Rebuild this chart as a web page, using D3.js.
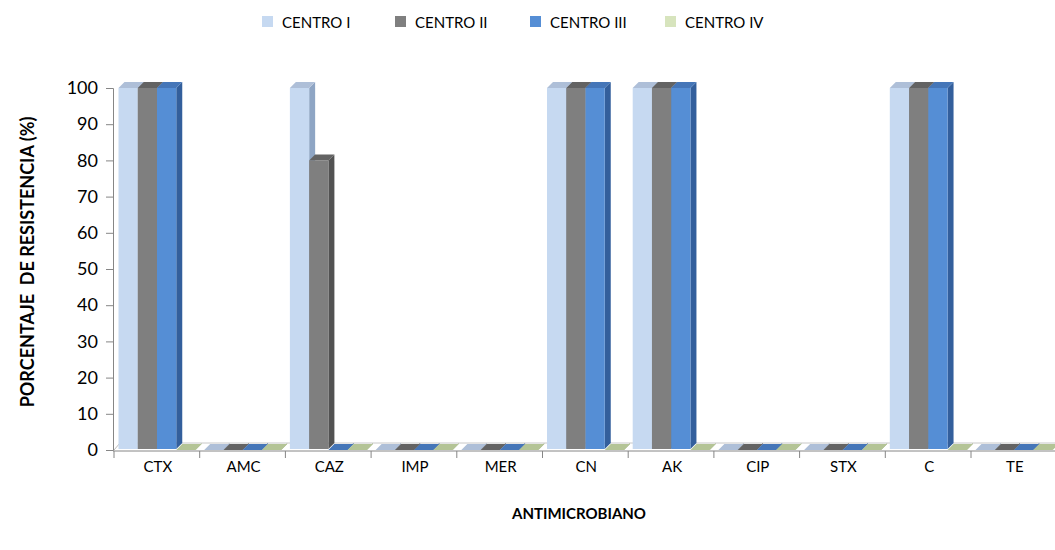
<!DOCTYPE html>
<meta charset="utf-8">
<script src="https://d3js.org/d3.v7.min.js"></script>
<style>
  body { margin: 0; background: #fff; }
  text { font-family: Lato, "Open Sans", sans-serif; fill: #000; }
</style>
<div id="chart"></div>
<script>
// data
const categories = ["CTX", "AMC", "CAZ", "IMP", "MER", "CN", "AK", "CIP", "STX", "C", "TE"];
const seriesNames = ["CENTRO I", "CENTRO II", "CENTRO III", "CENTRO IV"];
const centroI   = [100, 0, 100, 0, 0, 100, 100, 0, 0, 100, 0];
const centroII  = [100, 0, 80, 0, 0, 100, 100, 0, 0, 100, 0];
const centroIII = [100, 0, 0, 0, 0, 100, 100, 0, 0, 100, 0];
const centroIV  = [0, 0, 0, 0, 0, 0, 0, 0, 0, 0, 0];
const yTicks = [0, 10, 20, 30, 40, 50, 60, 70, 80, 90, 100];

const series = [centroI, centroII, centroIII, centroIV];

// colours: front, side, top faces
const frontCol = ["#c6d9f1", "#7f7f7f", "#558ed5", "#d7e4bd"];
const sideCol  = ["#8ea5c4", "#525252", "#335f9c", "#9cad80"];
const topCol   = ["#aebfd8", "#636363", "#4576b8", "#b4c496"];

const W = 1055, H = 550;
const depth = 6;   // fake 3d offset

const svg = d3.select("#chart").append("svg")
  .attr("width", W)
  .attr("height", H);

// scales
const x = d3.scaleBand()
  .domain(categories)
  .range([114, 114 + 85.7 * categories.length])
  .paddingInner(0).paddingOuter(0);

const xs = d3.scaleBand()
  .domain(d3.range(series.length))
  .range([4.5, 81.5]);

const y = d3.scaleLinear().domain([0, 100]).range([450, 88]);

// floor
const floorBack = y(0) - depth - 1;
svg.append("line")
  .attr("x1", x.range()[0] + depth).attr("x2", W)
  .attr("y1", floorBack).attr("y2", floorBack)
  .attr("stroke", "#c8c8c8").attr("stroke-width", 1);
svg.append("line")
  .attr("x1", x.range()[0]).attr("x2", x.range()[0] + depth)
  .attr("y1", y(0)).attr("y2", floorBack)
  .attr("stroke", "#bbb");

// bars, left to right so the faces overlap like the original
const bars = svg.append("g");
categories.forEach((cat, ci) => {
  series.forEach((vals, si) => {
    const x0 = x(cat) + xs(si);
    const bw = xs.bandwidth();
    const yt = y(vals[ci]);
    const yb = y(0) - 1;
    const g = bars.append("g");
    // side face
    g.append("polygon")
      .attr("points", [[x0 + bw, yt], [x0 + bw + depth, yt - depth], [x0 + bw + depth, yb - depth], [x0 + bw, yb]].join(" "))
      .attr("fill", sideCol[si]);
    // top face
    g.append("polygon")
      .attr("points", [[x0, yt], [x0 + depth, yt - depth], [x0 + bw + depth, yt - depth], [x0 + bw, yt]].join(" "))
      .attr("fill", topCol[si]);
    // front face
    if (yb - yt > 0) {
      g.append("rect")
        .attr("x", x0).attr("y", yt)
        .attr("width", bw).attr("height", yb - yt)
        .attr("fill", frontCol[si]);
    }
  });
});

// y axis
const yAxis = d3.axisLeft(y)
  .tickValues(yTicks)
  .tickSize(7)
  .tickPadding(8);
const gy = svg.append("g")
  .attr("transform", "translate(113,0)")
  .call(yAxis);
gy.select(".domain").attr("stroke", "#868686");
gy.selectAll(".tick line").attr("stroke", "#868686");
gy.selectAll(".tick text")
  .style("font-family", "Lato, 'Open Sans', sans-serif")
  .style("font-size", "18px")
  .attr("fill", "#000");

// x axis: ticks between categories
const gx = svg.append("g").attr("class", "xaxis");
gx.append("line")
  .attr("x1", 113).attr("x2", W)
  .attr("y1", 451).attr("y2", 451)
  .attr("stroke", "#868686");
const bounds = categories.map(c => x(c)).concat([x.range()[1]]);
gx.selectAll(".xtick").data(bounds).join("line")
  .attr("class", "xtick")
  .attr("x1", d => d).attr("x2", d => d)
  .attr("y1", 451).attr("y2", 458)
  .attr("stroke", "#868686");
gx.selectAll(".xlab").data(categories).join("text")
  .attr("class", "xlab")
  .attr("x", d => x(d) + x.bandwidth() / 2 + 1)
  .attr("y", 472)
  .attr("text-anchor", "middle")
  .style("font-size", "15px")
  .text(d => d);

// axis titles
svg.append("text")
  .attr("x", 579).attr("y", 519)
  .attr("text-anchor", "middle")
  .style("font-size", "15px")
  .style("font-weight", "bold")
  .text("ANTIMICROBIANO");

svg.append("text")
  .attr("transform", "translate(34,262) rotate(-90)")
  .attr("text-anchor", "middle")
  .style("font-size", "18px")
  .style("font-weight", "bold")
  .style("white-space", "pre")
  .text("PORCENTAJE  DE RESISTENCIA (%)");

// legend
const legendX = [262, 395, 530, 665];
const legend = svg.append("g");
seriesNames.forEach((name, i) => {
  legend.append("rect")
    .attr("x", legendX[i]).attr("y", 16)
    .attr("width", 11).attr("height", 11)
    .attr("fill", frontCol[i]);
  legend.append("text")
    .attr("x", legendX[i] + 20).attr("y", 27.5)
    .style("font-size", "15px")
    .text(name);
});
</script>
